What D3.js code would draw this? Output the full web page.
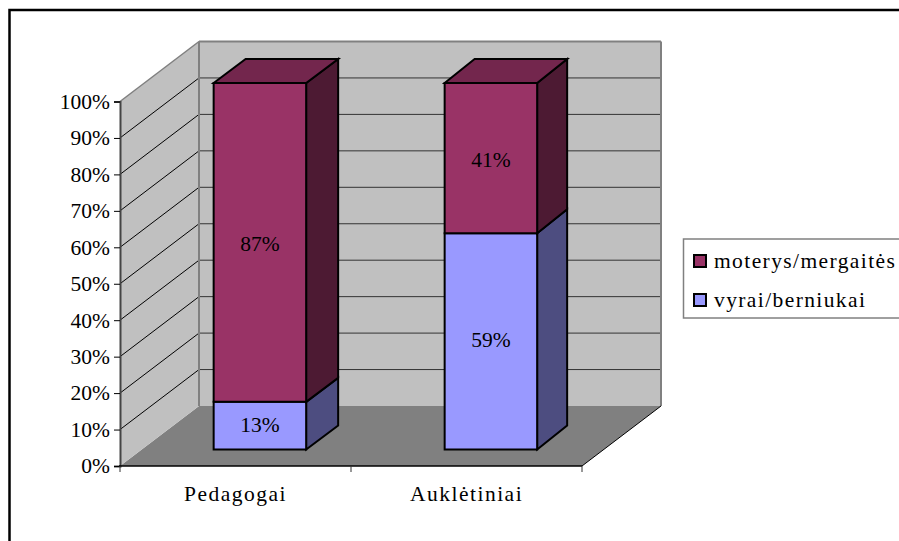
<!DOCTYPE html>
<html><head><meta charset="utf-8">
<script src="https://cdn.jsdelivr.net/npm/d3@7/dist/d3.min.js"></script>
<style>html,body{margin:0;background:#fff;overflow:hidden}svg{display:block}text{font-family:"Liberation Serif",serif;fill:#000}</style>
</head><body><svg width="899" height="541"></svg>
<script>
const categories=["Pedagogai","Auklėtiniai"];
const seriesNames=["vyrai/berniukai","moterys/mergaitės"];
const men=[13,59];
const women=[87,41];
const tickValues=[0,10,20,30,40,50,60,70,80,90,100];
const svg=d3.select("svg");
const y=d3.scaleLinear().domain([0,100]).range([466,101.5]);
const barY=d3.scaleLinear().domain([0,100]).range([449.5,83]);
const x=d3.scaleBand().domain(categories).range([120,582]);
const barW=92.5,dx=79,dy=-60,bdy=-24,fs=21.5;
const depthX=[32,30];
const poly=(pts,fill,stroke,sw)=>svg.append("polygon").attr("points",pts.map(p=>p.join(",")).join(" ")).attr("fill",fill).attr("stroke",stroke||"none").attr("stroke-width",sw||0).attr("stroke-linejoin","miter");
const line=(a,b,c,d,s,w)=>svg.append("line").attr("x1",a).attr("y1",b).attr("x2",c).attr("y2",d).attr("stroke",s).attr("stroke-width",w);
// outer frame (only the left and top edges fall inside the picture)
svg.append("rect").attr("x",9.5).attr("y",10).attr("width",1000).attr("height",700).attr("fill","#fff").attr("stroke","#000").attr("stroke-width",2.5);
// walls
const [x0,x1]=x.range(),y0=y(0),yT=y(100);
poly([[x0,y0],[x0+dx,y0+dy],[x1+dx,y0+dy],[x1,y0]],"#808080");
poly([[x0,y0],[x0,yT],[x0+dx,yT+dy],[x0+dx,y0+dy]],"#c0c0c0");
poly([[x0+dx,yT+dy],[x1+dx,yT+dy],[x1+dx,y0+dy],[x0+dx,y0+dy]],"#c0c0c0");
tickValues.slice(1,-1).forEach(t=>{const v=y(t);
  line(x0,v,x0+dx,v+dy,"#000",1);
  line(x0+dx,v+dy,x1+dx,v+dy,"#333",1);
});
line(x0+dx,yT+dy,x1+dx,yT+dy,"#808080",2);
line(x0,yT,x0+dx,yT+dy,"#808080",1.5);
line(x0+dx,yT+dy,x0+dx,y0+dy,"#808080",2);
line(x1+dx,yT+dy,x1+dx,y0+dy,"#808080",2);
line(x1,y0,x1+dx,y0+dy,"#000",1);
// axes
const yAxis=d3.axisLeft(y).tickValues(tickValues).tickFormat(d=>d+"%").tickSize(6).tickPadding(4);
const gy=svg.append("g").attr("transform",`translate(${x0},0)`).call(yAxis);
gy.selectAll("text").attr("font-size",fs).style("font-family",'"Liberation Serif",serif');
gy.select(".domain").attr("stroke","#444").attr("stroke-width",2);
const xAxis=d3.axisBottom(x).tickSize(0).tickPadding(18);
const gx=svg.append("g").attr("transform",`translate(0,${y0})`).call(xAxis);
gx.select(".domain").remove();
gx.selectAll("text").attr("font-size",fs).attr("y",20).style("font-family",'"Liberation Serif",serif').attr("letter-spacing",1.5);
line(x0-1,y0,x1,y0,"#000",1.5);
[x0,(x0+x1)/2,x1].forEach(v=>line(v,y0,v,y0+6,"#333",1));
// bars
const bar=(cx,bdx,lo,hi,front,side,top,lab,drawTop,off)=>{
  const l=cx-barW/2,r=cx+barW/2,yl=barY(lo),yh=barY(hi);
  poly([[r,yl],[r+bdx,yl+bdy],[r+bdx,yh+bdy],[r,yh]],side,"#000",2);
  if(drawTop)poly([[l,yh],[l+bdx,yh+bdy],[r+bdx,yh+bdy],[r,yh]],top,"#000",2);
  poly([[l,yl],[r,yl],[r,yh],[l,yh]],front,"#000",2);
  svg.append("text").attr("x",cx).attr("y",(yl+yh)/2+off).attr("text-anchor","middle").attr("font-size",fs).text(lab);
};
categories.forEach((c,i)=>{
  const cx=x(c)+x.bandwidth()/2+24.4;
  bar(cx,depthX[i],0,men[i],"#9999ff","#4d4d80","#7a7acc",men[i]+"%",false,6);
  bar(cx,depthX[i],men[i],100,"#993366","#4d1a33","#73264d",women[i]+"%",true,9);
});
// legend
svg.append("rect").attr("x",683.5).attr("y",239).attr("width",240).attr("height",79).attr("fill","#fff").attr("stroke","#808080").attr("stroke-width",1.5);
[["#993366",seriesNames[1],268],["#9999ff",seriesNames[0],307]].forEach(([f,t,b])=>{
  svg.append("rect").attr("x",694).attr("y",b-13).attr("width",12).attr("height",12).attr("fill",f).attr("stroke","#000").attr("stroke-width",2);
  svg.append("text").attr("x",714).attr("y",b).attr("font-size",fs).attr("letter-spacing",1.4).text(t);
});
</script></body></html>
